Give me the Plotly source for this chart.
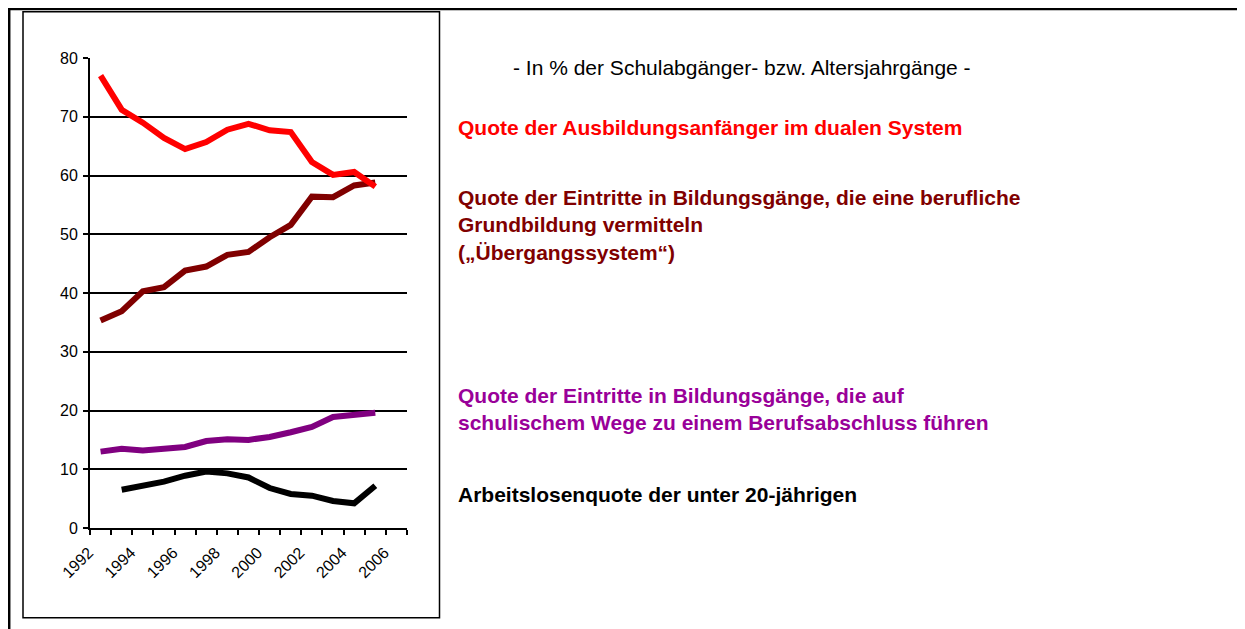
import plotly.graph_objects as go

years = list(range(1992, 2006))
dual_system = [77.0, 71.2, 69.0, 66.4, 64.5, 65.7, 67.8, 68.8, 67.7, 67.4, 62.3, 60.1, 60.6, 58.1]
uebergang = [35.3, 36.9, 40.3, 41.0, 43.8, 44.5, 46.5, 47.0, 49.5, 51.6, 56.4, 56.3, 58.3, 58.8]
schulisch = [13.0, 13.5, 13.2, 13.4, 13.8, 14.8, 15.1, 15.0, 15.5, 16.3, 17.2, 18.9, 19.2, 19.6]
years_alq = list(range(1993, 2006))
arbeitslos = [6.5, 7.1, 7.9, 8.9, 9.6, 9.3, 8.6, 6.8, 5.8, 5.5, 4.6, 4.2, 7.2]

tick_years = [1992, 1994, 1996, 1998, 2000, 2002, 2004, 2006]
tick_labels = [str(y) for y in tick_years]
y_ticks = [0, 10, 20, 30, 40, 50, 60, 70, 80]

subtitle = "- In % der Schulabgänger- bzw. Altersjahrgänge -"
label_dual = "Quote der Ausbildungsanfänger im dualen System"
label_ueb = "Quote der Eintritte in Bildungsgänge, die eine berufliche<br>Grundbildung vermitteln<br>(„Übergangssystem“)"
label_sch = "Quote der Eintritte in Bildungsgänge, die auf<br>schulischem Wege zu einem Berufsabschluss führen"
label_alq = "Arbeitslosenquote der unter 20-jährigen"

# page body margin (8px) shifts the figure; work in screen pixels and convert
OFF = 8
W, H = 1245 - OFF, 629 - OFF
PL, PR, PT, PB = 90 - OFF, 407 - OFF, 58.3 - OFF, 528.3 - OFF


def px(x):
    return (x - OFF - PL) / (PR - PL)


def py(y):
    return (PB - (y - OFF)) / (PB - PT)


fig = go.Figure()
fig.add_trace(go.Scatter(x=years, y=uebergang, mode="lines", line=dict(color="#800000", width=6), name="ueb"))
fig.add_trace(go.Scatter(x=years, y=dual_system, mode="lines", line=dict(color="#FF0000", width=6), name="dual"))
fig.add_trace(go.Scatter(x=years, y=schulisch, mode="lines", line=dict(color="#800080", width=6), name="sch"))
fig.add_trace(go.Scatter(x=years_alq, y=arbeitslos, mode="lines", line=dict(color="#000000", width=6), name="alq"))

font_family = "Liberation Sans, Arial, sans-serif"

fig.update_layout(
    width=W, height=H, autosize=False,
    margin=dict(l=PL, r=W - PR, t=PT, b=H - PB, pad=0),
    paper_bgcolor="white", plot_bgcolor="white",
    showlegend=False,
    font=dict(family=font_family, color="black"),
    xaxis=dict(
        range=[1991.5, 2006.5],
        tickmode="array", tickvals=tick_years, ticktext=tick_labels,
        tickangle=-45, ticks="", showgrid=False, zeroline=False,
        showline=True, linecolor="black", linewidth=2,
        tickfont=dict(size=16, family=font_family, color="black"),
        ticklabelshift=-12, ticklabelstandoff=7,
        minor=dict(tickmode="linear", tick0=1991.5, dtick=1, ticks="outside",
                   ticklen=5, tickwidth=2, tickcolor="black", showgrid=False),
    ),
    yaxis=dict(
        range=[0, 80], tickmode="array", tickvals=y_ticks,
        ticks="outside", ticklen=5, tickwidth=2, tickcolor="black",
        showgrid=True, gridcolor="black", gridwidth=2,
        zeroline=False, showline=True, linecolor="black", linewidth=2,
        tickfont=dict(size=16, family=font_family, color="black"),
        ticklabelstandoff=2,
    ),
)

# frames
fig.add_shape(type="rect", xref="paper", yref="paper",
              x0=px(23), x1=px(439.5), y0=py(618), y1=py(12),
              line=dict(color="black", width=1.5), layer="below")
fig.add_shape(type="line", xref="paper", yref="paper",
              x0=px(8), x1=px(1260), y0=py(9.2), y1=py(9.2),
              line=dict(color="black", width=2.5))
fig.add_shape(type="line", xref="paper", yref="paper",
              x0=px(9.2), x1=px(9.2), y0=py(8), y1=py(650),
              line=dict(color="black", width=2.5))

fs = 21
fig.add_annotation(text=subtitle, xref="paper", yref="paper", x=px(742), y=py(68),
                   xanchor="center", yanchor="middle", showarrow=False,
                   font=dict(size=fs, color="black", family=font_family))
fig.add_annotation(text="<b>" + label_dual + "</b>", xref="paper", yref="paper", x=px(456), y=py(128),
                   xanchor="left", yanchor="middle", showarrow=False, align="left",
                   font=dict(size=fs, color="#FF0000", family=font_family))
fig.add_annotation(text="<b>" + label_ueb.replace("<br>", "</b><br><b>") + "</b>", xref="paper", yref="paper",
                   x=px(456), y=py(225), xanchor="left", yanchor="middle", showarrow=False, align="left",
                   font=dict(size=fs, color="#800000", family=font_family))
fig.add_annotation(text="<b>" + label_sch.replace("<br>", "</b><br><b>") + "</b>", xref="paper", yref="paper",
                   x=px(456), y=py(409), xanchor="left", yanchor="middle", showarrow=False, align="left",
                   font=dict(size=fs, color="#990099", family=font_family))
fig.add_annotation(text="<b>" + label_alq + "</b>", xref="paper", yref="paper", x=px(456), y=py(495),
                   xanchor="left", yanchor="middle", showarrow=False, align="left",
                   font=dict(size=fs, color="black", family=font_family))

fig.write_html("out.html")
